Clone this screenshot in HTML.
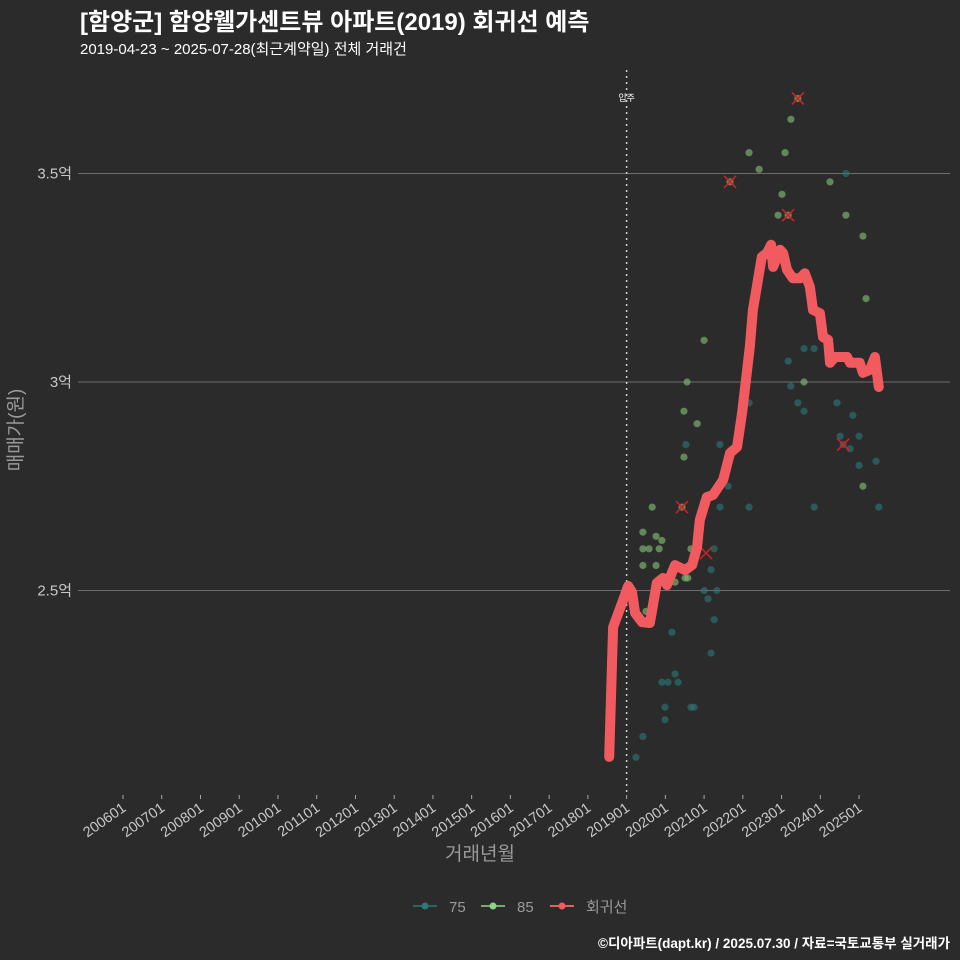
<!DOCTYPE html>
<html><head><meta charset="utf-8">
<style>
html,body{margin:0;padding:0;background:#2b2b2c;}
svg{display:block;font-family:"Liberation Sans","Noto Sans CJK KR",sans-serif;}
</style></head>
<body>
<svg id="chart" width="960" height="960" viewBox="0 0 960 960">
<rect width="960" height="960" fill="#2b2b2c"/>
<text x="80" y="30" fill="#ffffff" font-size="24" font-weight="bold">[함양군] 함양웰가센트뷰 아파트(2019) 회귀선 예측</text>
<text x="80" y="54" fill="#ffffff" font-size="15">2019-04-23 ~ 2025-07-28(최근계약일) 전체 거래건</text>
<g id="grid"></g>
<g id="marks"></g>
<text x="480" y="860" fill="#9a9a9a" font-size="19" text-anchor="middle">거래년월</text>
<text transform="translate(22,430) rotate(-90)" fill="#9a9a9a" font-size="19" text-anchor="middle">매매가(원)</text>
<g>
<g><line x1="413" y1="906" x2="437" y2="906" stroke="#2a7a78" stroke-width="1.5"/><circle cx="425" cy="906" r="3.5" fill="#2a7a78"/><text x="449" y="912" fill="#9a9a9a" font-size="15">75</text></g>
<g><line x1="481" y1="906" x2="505" y2="906" stroke="#8fd486" stroke-width="1.5"/><circle cx="493" cy="906" r="3.5" fill="#8fd486"/><text x="517" y="912" fill="#9a9a9a" font-size="15">85</text></g>
<g><line x1="550" y1="906" x2="574" y2="906" stroke="#f15b5f" stroke-width="2"/><circle cx="562" cy="906" r="3.5" fill="#f15b5f"/><text x="586" y="912" fill="#9a9a9a" font-size="15">회귀선</text></g>
</g>
<text x="950" y="948" fill="#ffffff" font-size="13.5" font-weight="bold" text-anchor="end">©디아파트(dapt.kr) / 2025.07.30 / 자료=국토교통부 실거래가</text>
</svg>
<script>
const xTickLabels = ["200601","200701","200801","200901","201001","201101","201201","201301","201401","201501","201601","201701","201801","201901","202001","202101","202201","202301","202401","202501"];
const yTickValues = [2.5, 3, 3.5];
const yTickLabels = ["2.5억","3억","3.5억"];
const moveInDate = 2019.0;
const t75 = [2019.24,2019.42,2019.99,2019.99,2019.91,2020.07,2020.33,2020.25,2020.66,2020.74,2020.17,2021.26,2021.18,2021.00,2021.33,2021.10,2021.18,2021.26,2021.41,2022.16,2020.53,2021.41,2021.62,2024.66,2023.58,2023.84,2023.17,2023.24,2022.16,2023.42,2024.43,2023.58,2024.84,2024.51,2025.00,2024.77,2024.59,2025.00,2025.44,2023.84,2025.51];
const v75 = [2.10,2.15,2.19,2.22,2.28,2.28,2.28,2.30,2.22,2.22,2.40,2.43,2.35,2.50,2.50,2.48,2.55,2.60,2.70,2.70,2.85,2.85,2.75,3.50,3.08,3.08,3.05,2.99,2.95,2.95,2.95,2.93,2.92,2.87,2.87,2.84,2.85,2.80,2.81,2.70,2.70];
const t85 = [2019.66,2019.42,2019.76,2019.91,2019.42,2019.58,2019.84,2019.42,2019.76,2020.43,2020.66,2020.25,2020.51,2020.58,2019.50,2020.56,2020.48,2020.48,2020.82,2021.00,2023.42,2023.24,2022.16,2023.09,2022.42,2021.67,2024.25,2023.01,2022.91,2023.17,2024.66,2025.10,2025.18,2023.58,2025.10];
const v85 = [2.70,2.64,2.63,2.62,2.60,2.60,2.60,2.56,2.56,2.70,2.60,2.52,2.53,2.53,2.45,3.00,2.93,2.82,2.90,3.10,3.68,3.63,3.55,3.55,3.51,3.48,3.48,3.45,3.40,3.40,3.40,3.35,3.20,3.00,2.75];
const tOut = [2020.43,2023.42,2021.67,2023.17,2024.59,2021.05];
const vOut = [2.70,3.68,3.48,3.40,2.85,2.59];
const tReg = [2018.55,2018.65,2018.91,2019.04,2019.14,2019.22,2019.40,2019.60,2019.78,2019.94,2020.04,2020.25,2020.51,2020.69,2020.82,2020.89,2021.07,2021.23,2021.49,2021.67,2021.85,2021.98,2022.18,2022.26,2022.49,2022.62,2022.73,2022.78,2022.96,2023.04,2023.14,2023.29,2023.48,2023.60,2023.73,2023.81,2023.99,2024.07,2024.20,2024.25,2024.38,2024.69,2024.77,2025.02,2025.10,2025.28,2025.41,2025.51];
const vReg = [2.101,2.412,2.477,2.511,2.496,2.446,2.424,2.422,2.518,2.530,2.513,2.561,2.549,2.561,2.604,2.669,2.724,2.729,2.765,2.830,2.844,2.926,3.084,3.173,3.300,3.309,3.329,3.276,3.317,3.309,3.269,3.249,3.249,3.261,3.228,3.173,3.165,3.108,3.101,3.046,3.060,3.060,3.046,3.046,3.022,3.029,3.060,2.988];

const NS="http://www.w3.org/2000/svg";
const X0=123, XPY=38.74, Y0=382, YPU=417;
function xs(t){return X0+(t-2006)*XPY;}
function ys(v){return Y0-(v-3)*YPU;}
function mk(tag,attrs,parent){const e=document.createElementNS(NS,tag);for(const k in attrs)e.setAttribute(k,attrs[k]);parent.appendChild(e);return e;}
const grid=document.getElementById('grid');
const marks=document.getElementById('marks');
yTickValues.forEach((v,i)=>{
  const l=mk('line',{x1:78,x2:950,y1:ys(v),y2:ys(v),stroke:'#6e6e6e','stroke-width':1},grid);
  
  
  const t=mk('text',{x:72,y:ys(v)+5,fill:'#c8c8c8','font-size':15,'text-anchor':'end'},grid);
  t.textContent=yTickLabels[i];
  
  
});
xTickLabels.forEach((s,i)=>{
  const t0=parseInt(s.slice(0,4))+(parseInt(s.slice(4))-1)/12;
  const x=xs(t0);
  const tk=mk('line',{x1:x,x2:x,y1:795,y2:799,stroke:'#aaaaaa','stroke-width':1},grid);
  
  
  const t=mk('text',{transform:`translate(${x+4},${810}) rotate(-35)`,fill:'#c8c8c8','font-size':14.5,'text-anchor':'end'},grid);
  t.textContent=s;
  
  
});
const mv=mk('line',{x1:xs(moveInDate),x2:xs(moveInDate),y1:70,y2:792,stroke:'#d0d0d0','stroke-width':1.5,'stroke-dasharray':'2,4'},marks);


const mvt=mk('text',{x:xs(moveInDate),y:101,fill:'#ffffff','font-size':9,'text-anchor':'middle'},marks);
mvt.textContent='입주';


t75.forEach((t,i)=>{
  const c=mk('circle',{cx:xs(t),cy:ys(v75[i]),r:3.6,fill:'#2a7a78','fill-opacity':0.6},marks);
  
  
});
t85.forEach((t,i)=>{
  const c=mk('circle',{cx:xs(t),cy:ys(v85[i]),r:3.6,fill:'#7fb870','fill-opacity':0.65},marks);
  
  
});
tOut.forEach((t,i)=>{
  const x=xs(t),y=ys(vOut[i]);
  const p=mk('path',{d:`M${x-6},${y-6}L${x+6},${y+6}M${x+6},${y-6}L${x-6},${y+6}`,stroke:'#d62020','stroke-width':1.5},marks);
  
  
});
const d=tReg.map((t,i)=>(i?'L':'M')+xs(t).toFixed(1)+','+ys(vReg[i]).toFixed(1)).join('');
const rl=mk('path',{d:d,fill:'none',stroke:'#f15b5f','stroke-width':10,'stroke-linejoin':'round','stroke-linecap':'round'},marks);


</script>
</body></html>
